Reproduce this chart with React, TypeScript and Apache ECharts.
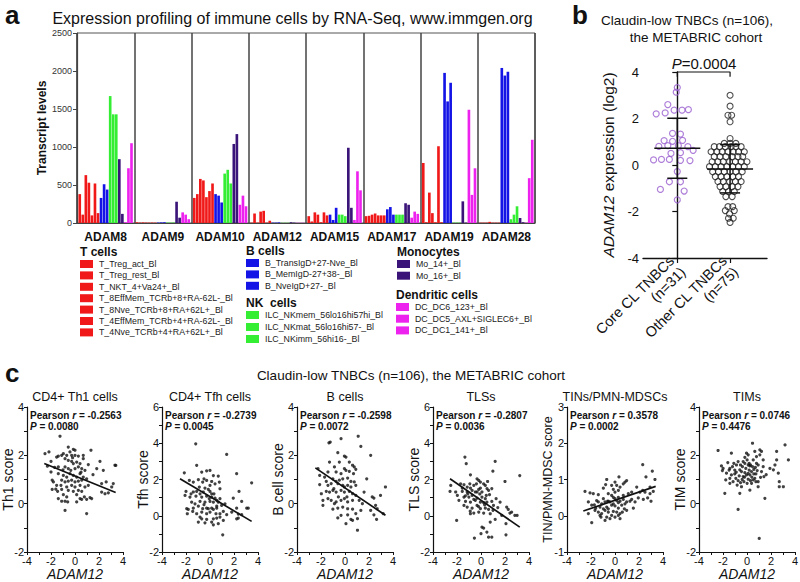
import React, { useEffect, useRef } from "react";
import * as echarts from "echarts";

const FONT = "'Liberation Sans', Arial, Helvetica, sans-serif";
const INK = "#111";

// ---------- Panel a data ----------
const genes = ["ADAM8", "ADAM9", "ADAM10", "ADAM12", "ADAM15", "ADAM17", "ADAM19", "ADAM28"];
const cellTypes = [
  "T_Treg_act_Bl", "T_Treg_rest_Bl", "T_NKT_4+Va24+_Bl", "T_8EffMem_TCRb+8+RA-62L-_Bl",
  "T_8Nve_TCRb+8+RA+62L+_Bl", "T_4EffMem_TCRb+4+RA-62L-_Bl", "T_4Nve_TCRb+4+RA+62L+_Bl",
  "B_TransIgD+27-Nve_Bl", "B_MemIgD-27+38-_Bl", "B_NveIgD+27-_Bl",
  "ILC_NKmem_56lo16hi57hi_Bl", "ILC_NKmat_56lo16hi57-_Bl", "ILC_NKimm_56hi16-_Bl",
  "Mo_14+_Bl", "Mo_16+_Bl",
  "DC_DC6_123+_Bl", "DC_DC5_AXL+SIGLEC6+_Bl", "DC_DC1_141+_Bl",
];
const lineageNames = ["T cells", "B cells", "NK\u00a0 cells", "Monocytes", "Dendritic cells"];
const lineageSizes = [7, 3, 3, 2, 3];
const lineageColors = ["#f01818", "#1414e6", "#34ee34", "#3a1478", "#ee22ee"];

const adam8 = [380, 110, 630, 530, 100, 520, 130, 330, 510, 440, 1670, 1430, 1430, 840, 120, 10, 720, 1050];
const adam9 = [10, 6, 8, 6, 5, 6, 5, 6, 8, 10, 6, 5, 6, 280, 70, 140, 110, 50];
const adam10 = [330, 380, 580, 560, 340, 420, 520, 380, 360, 270, 650, 700, 520, 1040, 1170, 240, 360, 220];
const adam12 = [5, 125, 5, 150, 160, 5, 30, 5, 5, 8, 3, 3, 3, 10, 5, 3, 3, 3];
const adam15 = [90, 20, 140, 110, 10, 140, 100, 110, 40, 200, 110, 110, 90, 990, 200, 40, 680, 430];
const adam17 = [90, 95, 110, 125, 100, 100, 100, 180, 210, 110, 110, 110, 110, 260, 240, 70, 150, 120];
const adam19 = [790, 10, 400, 130, 10, 1010, 10, 1975, 1600, 1845, 5, 5, 5, 285, 5, 1490, 370, 720];
const adam28 = [5, 5, 5, 15, 5, 5, 5, 2040, 1940, 1990, 50, 110, 220, 66, 10, 5, 590, 1095];
const geneValues = [adam8, adam9, adam10, adam12, adam15, adam17, adam19, adam28];

// ---------- Panel b data ----------
const groupLabels = ["Core CL TNBCs\n(n=31)", "Other CL TNBCs\n(n=75)"];
const coreCL = [
  [0.0, 3.33], [-0.02, 3.13], [-0.18, 2.6], [-0.4, 2.2], [-0.23, 2.24], [-0.06, 2.36], [0.09, 2.36],
  [0.21, 2.38], [-0.09, 1.36], [0.06, 1.33], [-0.25, 1.05], [-0.09, 1.02], [0.1, 1.06], [-0.35, 0.8],
  [-0.18, 0.83], [0.02, 0.83], [0.2, 0.79], [0.3, 0.63], [-0.12, 0.5], [0.06, 0.53], [-0.45, 0.22],
  [-0.3, 0.24], [-0.15, 0.24], [0.06, 0.2], [0.24, 0.19], [0.0, -0.28], [-0.15, -0.72], [0.06, -0.72],
  [-0.32, -1.05], [0.13, -1.12], [0.0, -1.5],
];
const otherCL = [
  [1, 3.0], [1, 2.53], [0.96, 2.14], [1.03, 2.14], [1, 1.86], [1, 1.14],
  [0.89, 0.93], [1, 0.93], [1.11, 0.93],
  [0.7, 0.79], [0.8, 0.79], [0.91, 0.79], [1.02, 0.79], [1.11, 0.79], [1.21, 0.79],
  [0.64, 0.57], [0.75, 0.57], [0.85, 0.57], [0.96, 0.57], [1.06, 0.57], [1.16, 0.57], [1.27, 0.57],
  [0.7, 0.36], [0.81, 0.36], [0.92, 0.36], [1.04, 0.36], [1.15, 0.36], [1.24, 0.36],
  [0.66, 0.14], [0.77, 0.14], [0.87, 0.14], [0.99, 0.14], [1.1, 0.14], [1.21, 0.14], [1.32, 0.14],
  [0.61, -0.07], [0.72, -0.07], [0.83, -0.07], [0.94, -0.07], [1.05, -0.07], [1.16, -0.07], [1.27, -0.07],
  [0.67, -0.29], [0.78, -0.29], [0.89, -0.29], [1, -0.29], [1.11, -0.29], [1.23, -0.29],
  [0.72, -0.5], [0.83, -0.5], [0.94, -0.5], [1.05, -0.5], [1.16, -0.5],
  [0.77, -0.71], [0.87, -0.71], [0.99, -0.71], [1.1, -0.71], [1.21, -0.71],
  [0.81, -0.93], [0.92, -0.93], [1.04, -0.93], [1.15, -0.93],
  [0.86, -1.14], [0.97, -1.14], [1.08, -1.14],
  [0.92, -1.36], [1.04, -1.36],
  [0.96, -1.79], [1.05, -1.79], [0.91, -1.96], [1.08, -1.96], [0.99, -2.1], [0.97, -2.29], [1.06, -2.29], [1, -2.47],
];
const groupMeans = [0.72, -0.17];
const groupSdLow = [-0.57, -1.2];
const groupSdHigh = [2.01, 0.88];
const bracketX = [0, 0, 1, 1];
const bracketY = [3.8, 4, 4, 3.8];

// ---------- Panel c data ----------
const th1Points = [
  [-1.25, 2.79], [-2.5, 2.07], [-2.17, 2.14], [-0.56, 2.34], [-0.14, 2.25], [0, 2.21], [-0.42, 2.14], [1.33, 2.21],
  [-1.39, 1.97], [-1.11, 2.0], [-0.97, 2.07], [-0.69, 2.0], [-0.28, 2.0], [0, 2.0], [0.28, 1.97], [0.69, 2.0],
  [2.08, 1.75], [3.33, 1.59], [-2.0, 1.75], [-1.39, 1.52], [-1.53, 1.93], [-0.83, 1.86], [-0.56, 1.79], [-0.28, 1.75],
  [-0.14, 1.66], [0.14, 1.72], [0.42, 1.66], [0.69, 1.86], [1.11, 1.62], [1.81, 1.45], [2.36, 1.38], [-2.0, 1.31],
  [-0.83, 1.52], [-0.56, 1.45], [-0.35, 1.38], [0, 1.45], [0.28, 1.52], [0.56, 1.45], [0.83, 1.38], [-1.39, 1.24],
  [-0.97, 1.17], [-0.69, 1.1], [-0.42, 1.24], [-0.14, 1.17], [0.14, 1.1], [0.42, 1.24], [0.69, 1.1], [0.97, 1.03],
  [-1.9, 0.97], [-1.8, 0.9], [-1.11, 0.97], [-0.83, 0.9], [-0.56, 0.93], [-0.28, 0.97], [0, 0.9], [0.28, 0.93],
  [0.56, 0.97], [-1.53, 0.76], [-1.17, 0.76], [-0.69, 0.69], [-0.28, 0.76], [0, 0.69], [0.42, 0.76], [0.83, 0.69],
  [1.11, 0.76], [2.22, 0.83], [3.19, 0.83], [-1.9, 0.59], [-1.45, 0.51], [-1.11, 0.59], [-0.56, 0.55], [-0.14, 0.51],
  [0.28, 0.55], [0.56, 0.51], [2.22, 0.48], [2.5, 0.41], [3.06, 0.69], [-0.97, 0.37], [-0.69, 0.28], [0.14, 0.37],
  [0.42, 0.21], [0.78, 0.28], [1.39, 0.21], [-1.39, 0.21], [-1.11, 0.1], [-0.83, 0.1], [-0.61, 0.07], [0.14, 0.07],
  [0.56, 0.18], [0.97, 0.18], [1.25, 0.25], [-0.83, -0.28], [0.97, -0.41], [-1.6, 0.6], [2.78, 0.45], [-2.3, 1.55],
  [-1.7, 1.5], [3.4, 1.58], [1.5, 1.2], [-0.2, 1.9], [0.5, 1.3], [-1.0, 1.4], [2.6, 0.9],
];
const tfhPoints = [
  [-1.19, 3.97], [1.39, 3.38], [-1.11, 2.78], [-2.14, 2.37], [-0.69, 2.41], [-0.28, 2.48], [0, 2.5], [2.22, 2.32],
  [0.69, 2.19], [0.28, 2.22], [-0.5, 2.04], [-0.97, 1.99], [-1.39, 1.86], [-0.61, 1.86], [-0.28, 1.95], [0.14, 1.89],
  [0.78, 1.86], [-1.72, 1.95], [0.42, 1.76], [0, 1.67], [-0.89, 1.58], [-0.42, 1.53], [0.83, 1.49], [-0.14, 1.45],
  [-2.0, 1.34], [-1.39, 1.31], [-1.11, 1.34], [-0.83, 1.21], [-0.56, 1.31], [0, 1.34], [0.14, 1.21], [0.33, 1.21],
  [2.42, 1.34], [-2.08, 1.12], [-1.67, 1.03], [-1.17, 1.08], [-0.69, 1.03], [-0.28, 1.08], [-0.06, 0.94], [0.14, 1.03],
  [0.42, 0.97], [0.56, 0.85], [0.83, 0.94], [1.94, 0.97], [2.64, 0.79], [-1.53, 0.75], [-0.83, 0.79], [-0.42, 0.75],
  [0, 0.79], [0.28, 0.75], [0.69, 0.75], [1.25, 0.66], [2.22, 0.42], [3.06, 0.42], [3.19, 0.42], [-1.94, 0.39],
  [-1.39, 0.42], [-0.97, 0.53], [-0.61, 0.39], [-0.14, 0.39], [0.14, 0.42], [0.28, 0.35], [0.56, 0.42], [0.97, 0.57],
  [-1.11, 0.11], [-0.69, 0.2], [-0.28, 0.11], [0, 0.2], [0.5, 0.11], [0.83, 0.11], [1.39, 0.06], [2.36, 0.09],
  [2.64, 0.06], [-1.81, 0.35], [-1.89, 0.11], [-0.83, -0.07], [-0.69, -0.17], [-0.28, -0.2], [0.28, -0.17], [0.56, -0.13],
  [0.83, -0.07], [1.11, -0.26], [2.22, -0.17], [2.36, -0.13], [-0.97, -0.35], [-0.42, -0.39], [0.14, -0.35], [0.69, -0.44],
  [0.28, -0.5], [1.06, -1.05], [-1.44, 0.24], [1.11, 0.24], [-0.28, 0.42], [-0.5, 0.61], [-1.25, 0.66], [0.56, 0.53],
  [1.81, 0.2], [-1.58, 1.21], [3.47, 1.82],
];
const bcellPoints = [
  [-1.23, 2.55], [-1.34, 2.52], [-0.33, 2.69], [1.1, 2.79], [1.32, 2.37], [-0.6, 2.11], [-0.05, 1.97], [0.08, 1.93],
  [2.14, 2.0], [-1.29, 1.72], [-0.47, 1.72], [0.36, 1.72], [0.63, 1.59], [0.77, 1.52], [-2.25, 1.45], [-0.88, 1.52],
  [-0.05, 1.45], [0.08, 1.38], [0.9, 1.42], [-1.42, 1.31], [-0.74, 1.31], [-0.33, 1.24], [0.36, 1.34], [0.71, 1.24],
  [1.81, 1.03], [-2.11, 1.17], [-1.7, 1.1], [-1.01, 1.03], [-0.74, 0.92], [-0.47, 0.97], [-0.19, 1.03], [0.22, 1.06],
  [0.49, 0.92], [0.77, 0.9], [-2.11, 0.79], [-1.42, 0.76], [-1.15, 0.83], [-0.6, 0.83], [-0.19, 0.76], [-0.05, 0.69],
  [0.22, 0.76], [0.49, 0.69], [0.9, 0.76], [3.37, 0.69], [-1.97, 0.41], [-1.56, 0.51], [-1.29, 0.48], [-1.01, 0.55],
  [-0.74, 0.48], [-0.33, 0.55], [-0.05, 0.48], [0.36, 0.51], [0.63, 0.41], [0.9, 0.34], [2.27, 0.28], [2.41, 0.23],
  [2.96, 0.34], [-1.84, 0.14], [-1.42, 0.21], [-1.15, 0.14], [-0.74, 0.07], [-0.33, 0.14], [-0.05, 0.21], [0.22, 0.07],
  [0.63, 0.14], [1.18, 0.14], [-1.84, -0.07], [-1.01, -0.23], [-0.6, -0.18], [-0.19, -0.14], [0.22, -0.21], [0.63, -0.23],
  [1.32, -0.28], [2.14, -0.28], [2.55, -0.07], [2.68, -0.21], [-0.6, -0.59], [-0.33, -0.48], [0.22, -0.46], [0.49, -0.65],
  [0.9, -0.41], [2.41, -0.46], [1.04, -0.62], [0.08, -0.83], [0.63, -0.69], [1.04, -1.1], [2.63, -0.65], [3.18, -0.41],
  [-0.93, 0.62], [-0.55, 0.28], [0.16, 0.28], [1.59, 0.48], [-1.56, 0.92], [-0.88, 0], [1.45, 0],
];
const tlsPoints = [
  [-1.34, 3.24], [-1.23, 2.87], [1.18, 3.0], [0.99, 2.46], [3.23, 2.22], [-0.88, 2.26], [-0.33, 2.04], [-0.19, 1.95],
  [-0.05, 1.86], [0.55, 1.89], [-1.7, 1.76], [-1.42, 1.71], [-0.93, 1.76], [-0.6, 1.67], [-0.38, 1.76], [0.22, 1.76],
  [0.36, 1.67], [2.0, 1.89], [-2.58, 1.34], [-2.11, 1.31], [-1.56, 1.34], [-1.15, 1.31], [-1.1, 1.21], [-0.74, 1.4],
  [-0.47, 1.31], [-0.19, 1.45], [-0.05, 1.53], [0.08, 1.31], [0.63, 1.4], [-1.97, 1.12], [-1.42, 1.03], [-1.01, 1.03],
  [-0.74, 1.12], [-0.33, 0.97], [0.08, 1.03], [0.36, 0.94], [0.71, 1.16], [-1.84, 0.85], [-1.29, 0.79], [-0.88, 0.75],
  [-0.47, 0.85], [-0.05, 0.75], [0.22, 0.72], [0.49, 0.75], [0.9, 0.79], [-1.15, 0.48], [-0.74, 0.42], [-0.33, 0.57],
  [-0.05, 0.39], [0.36, 0.42], [0.63, 0.35], [1.04, 0.57], [2.14, 0.48], [2.27, 0.35], [2.55, 0.2], [-0.88, 0.11],
  [-0.6, 0.15], [-0.19, 0.2], [0.22, 0.15], [0.77, 0.11], [1.73, 0.02], [2.41, 0.15], [2.82, 0.02], [3.01, 0.02],
  [-2.03, -0.26], [0.77, -0.35], [1.18, -0.2], [2.08, -0.44], [0.08, -0.63], [0.22, -0.68], [0.49, -0.9], [0.63, -1.18],
  [0.9, -1.18], [0, -0.99], [-0.55, -1.23], [2.08, -1.05], [-1.42, 0.57], [-1.56, 1.53], [-0.33, 1.31], [0.44, 1.12],
  [-2.52, 1.67], [-1.15, 1.58], [-0.88, 1.53], [1.26, 0.94], [1.59, 0.75], [-0.1, 1.2], [0.3, 0.6], [-0.6, 0.9],
  [1.0, 0.3], [-1.3, 1.1], [0.5, 1.5], [-0.2, 0.5], [0.9, 1.5], [-0.9, 0.25], [1.4, 0.45],
];
const tinPoints = [
  [2.31, 1.41], [3.11, 1.23], [3.33, 1.0], [2.58, 1.07], [-0.69, 1.0], [0.33, 1.07], [0.97, 0.97], [0.83, 0.93],
  [0.69, 0.88], [0, 0.93], [-0.78, 0.86], [-0.28, 0.84], [0.14, 0.84], [0.42, 0.79], [-0.97, 0.76], [-0.14, 0.73],
  [0.28, 0.7], [0, 0.65], [1.81, 0.79], [2.92, 0.79], [-2.5, 0.67], [-2.08, 0.63], [-1.81, 0.61], [-1.39, 0.58],
  [-0.56, 0.61], [-0.28, 0.56], [-0.14, 0.51], [0, 0.47], [0.28, 0.51], [0.69, 0.56], [1.11, 0.61], [1.39, 0.65],
  [2.08, 0.65], [2.31, 0.7], [2.5, 0.65], [2.92, 0.61], [3.19, 0.67], [2.72, 0.49], [3.0, 0.4], [2.36, 0.45],
  [-2.22, 0.38], [-1.94, 0.29], [-1.39, 0.38], [-1.11, 0.33], [-0.83, 0.38], [-0.61, 0.4], [-0.42, 0.38], [0.14, 0.42],
  [0.42, 0.4], [0.83, 0.33], [1.25, 0.4], [-1.61, 0.21], [-1.25, 0.24], [-0.97, 0.19], [-0.69, 0.24], [-0.28, 0.29],
  [0, 0.27], [0.28, 0.21], [0.56, 0.29], [0.78, 0.19], [-1.39, 0.1], [-1.11, 0.06], [-0.83, 0.15], [-0.56, 0.1],
  [-0.14, 0.12], [0.14, 0.1], [0.42, 0.06], [0.97, 0.15], [1.53, 0.21], [-2.22, 0.06], [-1.25, 0.01], [-0.69, -0.04],
  [-0.28, 0.01], [0, -0.04], [0.28, 0.01], [-1.17, -0.04], [-0.83, -0.13], [-0.42, -0.08], [0.42, -0.08], [-1.94, -0.19],
  [-0.56, 0.4], [-0.97, 0.47], [-1.53, 0.42], [-1.72, 0.3], [0.69, 0.45], [0.97, 0.38], [1.39, 0.45], [1.67, 0.38],
  [1.94, 0.49], [-0.56, 0.19], [-1.67, 0.15], [-0.14, 0.33], [0.61, 0.1], [0.28, 0.36],
];
const timPoints = [
  [-2.41, 2.2], [-2.13, 1.56], [-2.05, 1.37], [-1.99, 1.46], [-1.85, 0.43], [-1.43, 1.05], [-1.43, 1.46], [-1.3, 2.09],
  [-1.1, 1.67], [-1.02, 1.39], [-0.88, 1.6], [-0.74, 1.74], [-0.65, 1.15], [-0.54, 1.6], [-0.46, 1.33], [-0.38, 1.53],
  [-0.32, 1.12], [-0.26, 0.91], [-0.18, 1.67], [-0.04, 2.09], [0.01, 1.81], [0.1, 1.6], [0.18, 1.39], [0.24, 1.19],
  [0.29, 0.95], [0.38, 0.84], [0.46, 2.5], [0.52, 1.81], [0.57, 1.42], [0.65, 2.16], [0.65, 1.05], [0.79, 1.67],
  [0.85, 1.37], [0.93, 0.91], [1.07, 2.02], [1.21, 2.16], [1.35, 1.81], [1.35, 1.53], [1.41, 1.12], [1.49, 0.22],
  [1.91, 1.46], [2.33, 1.6], [2.47, 2.16], [2.47, 1.81], [2.61, 1.26], [2.69, 0.91], [3.17, 2.43], [3.45, 1.81],
  [3.03, 0.7], [2.69, 0.7], [-1.49, 1.39], [-1.3, 1.19], [-1.16, 0.91], [-0.93, 1.05], [-0.82, 0.77], [-0.6, 0.43],
  [-0.46, 0.7], [-0.18, 1.28], [-0.04, 1.19], [0.1, 1.01], [0.24, 1.56], [0.38, 1.33], [0.52, 0.98], [0.74, 1.23],
  [0.93, 0.7], [1.02, -1.44], [-0.74, -0.24], [0.24, 0.56], [-0.32, 1.74], [0.79, 1.95], [1.07, 2.23], [-1.21, 1.53],
  [-1.02, 1.23], [-0.74, 0.95], [-0.54, 0.87], [-0.1, 1.46], [0.01, 0.84], [0.18, 1.67], [0.29, 1.6], [0.46, 1.53],
  [0.57, 1.23], [0.74, 0.91], [0.93, 1.6], [1.13, 1.09], [1.21, 1.33], [-1.71, 1.26], [-1.77, 0.98], [-1.43, 0.84],
  [-0.18, 1.92], [0.1, 2.02], [-0.6, 1.4], [0.4, 1.1], [-0.9, 1.3], [1.6, 1.2], [-0.2, 1.1], [0.7, 1.5],
  [-1.6, 1.7], [2.2, 1.4], [0.1, 1.25], [-0.4, 1.0],
];
const th1Fit = [[-2.56, 1.66], [3.39, 0.46]];
const tfhFit = [[-2.5, 2.04], [3.47, -0.31]];
const bcellFit = [[-2.47, 1.48], [3.37, -0.48]];
const tlsFit = [[-2.58, 2.04], [3.23, -0.63]];
const tinFit = [[-2.64, 0.13], [3.39, 0.81]];

const scatterTitles = ["CD4+ Th1 cells", "CD4+ Tfh cells", "B cells", "TLSs", "TINs/PMN-MDSCs", "TIMs"];
const scatterYNames = ["Th1 score", "Tfh score", "B cell score", "TLS score", "TIN/PMN-MDSC score", "TIM score"];
const scatterYMin = [-2, -2, -2, -2, -1, -2];
const scatterYMax = [4, 6, 4, 6, 3, 4];
const scatterYLabelStep = [2, 2, 2, 2, 1, 2];
const pearsonR = ["-0.2563", "-0.2739", "-0.2598", "-0.2807", "0.3578", "0.0746"];
const pearsonP = ["0.0080", "0.0045", "0.0072", "0.0036", "0.0002", "0.4476"];
const scatterPoints = [th1Points, tfhPoints, bcellPoints, tlsPoints, tinPoints, timPoints];
const scatterFits: any[] = [th1Fit, tfhFit, bcellFit, tlsFit, tinFit, null];

// ---------- layout ----------
const gridA = { left: 77, top: 33, width: 458, height: 190 };
const gridB = { left: 643, top: 72, width: 124, height: 186 };
const scatterLefts = [27, 162, 297, 433, 567, 699];
const scatterTop = 407;
const scatterW = 96;
const scatterH = 145;
const legendLayout = [
  { x: 80, y: 252, step: 11.4 },
  { x: 246, y: 251, step: 11.4 },
  { x: 246, y: 303, step: 12 },
  { x: 397, y: 252, step: 11.7 },
  { x: 396, y: 295, step: 11.7 },
];

function txt(x: number, y: number, text: string, o: any = {}) {
  const align = o.align || "left";
  const va = o.va || "middle";
  return {
    type: "text",
    x,
    y,
    rotation: o.rotation || 0,
    style: {
      text,
      fill: o.fill || INK,
      fontSize: o.size || 12,
      fontFamily: FONT,
      fontWeight: o.weight || "normal",
      fontStyle: o.style || "normal",
      align,
      textAlign: align,
      verticalAlign: va,
      textVerticalAlign: va,
      rich: o.rich,
    },
    z: 10,
  };
}

function buildOption() {
  const grids: any[] = [];
  const xAxes: any[] = [];
  const yAxes: any[] = [];
  const series: any[] = [];
  const graphics: any[] = [];

  // ----- panel a -----
  grids.push({ ...gridA, show: true, borderColor: "#555", borderWidth: 1, outerBoundsMode: "none", containLabel: false });
  xAxes.push({
    gridIndex: 0,
    type: "category",
    data: genes,
    axisLine: { show: true, lineStyle: { color: "#444", width: 1.2 } },
    axisTick: { show: false },
    axisLabel: { interval: 0, fontSize: 12, fontWeight: "bold", color: INK, fontFamily: FONT, margin: 8 },
    splitLine: { show: true, interval: 0, lineStyle: { color: "#444", width: 1.5 } },
  });
  yAxes.push({
    gridIndex: 0,
    type: "value",
    min: 0,
    max: 2500,
    interval: 500,
    axisLine: { show: true, lineStyle: { color: "#444", width: 1.2 } },
    axisTick: { show: true, length: 4, lineStyle: { color: "#444" } },
    axisLabel: { fontSize: 9, color: "#333", fontFamily: FONT, margin: 5, formatter: (v: number) => String(v) },
    splitLine: { show: false },
    name: "Transcript levels",
    nameLocation: "middle",
    nameGap: 29,
    nameMoveOverlap: false,
    nameTextStyle: { fontSize: 12, fontWeight: "bold", color: INK, fontFamily: FONT },
  });
  let lineage = 0;
  let within = 0;
  cellTypes.forEach((ct, i) => {
    series.push({
      type: "bar",
      name: ct,
      xAxisIndex: 0,
      yAxisIndex: 0,
      data: genes.map((_, g) => geneValues[g][i]),
      itemStyle: { color: lineageColors[lineage] },
      barGap: "15%",
      barCategoryGap: "5%",
      silent: true,
    });
    within++;
    if (within >= lineageSizes[lineage]) {
      lineage++;
      within = 0;
    }
  });
  graphics.push(txt(5, 15, "a", { size: 26, weight: "bold" }));
  graphics.push(txt(292.5, 18, "Expression profiling of immune cells by RNA-Seq, www.immgen.org", { size: 16, align: "center" }));

  // legend of panel a
  let idx = 0;
  lineageNames.forEach((ln, li) => {
    const L = legendLayout[li];
    graphics.push(txt(L.x, L.y, ln, { size: 12, weight: "bold" }));
    for (let k = 0; k < lineageSizes[li]; k++) {
      const yy = L.y + 12 + k * L.step;
      graphics.push({ type: "rect", shape: { x: L.x, y: yy - 4, width: 13, height: 8 }, style: { fill: lineageColors[li] }, z: 10 });
      graphics.push(txt(L.x + 19, yy, cellTypes[idx], { size: 8.8, fill: "#222" }));
      idx++;
    }
  });

  // ----- panel b -----
  grids.push({ ...gridB, show: false, outerBoundsMode: "none", containLabel: false });
  xAxes.push({
    gridIndex: 1,
    type: "value",
    min: -0.65,
    max: 1.7,
    axisLine: { show: true, onZero: false, lineStyle: { color: INK, width: 1.4 } },
    axisTick: { show: true, customValues: [0, 1], length: 5, lineStyle: { color: INK, width: 1.2 } },
    axisLabel: {
      customValues: [0, 1],
      formatter: (v: number) => groupLabels[Math.round(v)] || "",
      rotate: 45,
      fontSize: 14.5,
      lineHeight: 16,
      color: INK,
      fontFamily: FONT,
      margin: 6,
    },
    splitLine: { show: false },
  });
  yAxes.push({
    gridIndex: 1,
    type: "value",
    min: -4,
    max: 4,
    interval: 2,
    axisLine: { show: true, lineStyle: { color: INK, width: 1.4 } },
    axisTick: { show: true, length: 5, lineStyle: { color: INK, width: 1.2 } },
    axisLabel: { fontSize: 13, color: INK, fontFamily: FONT, margin: 4 },
    splitLine: { show: false },
    name: "{i|ADAM12} expression (log2)",
    nameLocation: "middle",
    nameGap: 27,
    nameMoveOverlap: false,
    nameTextStyle: {
      fontSize: 15.5,
      color: INK,
      fontFamily: FONT,
      rich: { i: { fontStyle: "italic", fontSize: 15.5, color: INK, fontFamily: FONT } },
    },
  });
  series.push({
    type: "scatter",
    xAxisIndex: 1,
    yAxisIndex: 1,
    data: coreCL,
    symbol: "circle",
    symbolSize: 6,
    itemStyle: { color: "rgba(255,255,255,0)", borderColor: "#9a5fd0", borderWidth: 1.2 },
    silent: true,
  });
  series.push({
    type: "scatter",
    xAxisIndex: 1,
    yAxisIndex: 1,
    data: otherCL,
    symbol: "circle",
    symbolSize: 6,
    itemStyle: { color: "rgba(255,255,255,0)", borderColor: "#222", borderWidth: 1.1 },
    silent: true,
  });
  series.push({
    type: "custom",
    xAxisIndex: 1,
    yAxisIndex: 1,
    data: groupMeans.map((m, i) => [i, m, groupSdLow[i], groupSdHigh[i]]),
    encode: { x: 0, y: [1, 2, 3] },
    z: 5,
    silent: true,
    renderItem: (params: any, api: any) => {
      const x = api.value(0);
      const pm = api.coord([x, api.value(1)]);
      const plo = api.coord([x, api.value(2)]);
      const phi = api.coord([x, api.value(3)]);
      const style = { stroke: INK, lineWidth: 1.5 };
      return {
        type: "group",
        children: [
          { type: "line", shape: { x1: pm[0] - 23, y1: pm[1], x2: pm[0] + 23, y2: pm[1] }, style },
          { type: "line", shape: { x1: plo[0], y1: plo[1], x2: phi[0], y2: phi[1] }, style },
          { type: "line", shape: { x1: phi[0] - 10, y1: phi[1], x2: phi[0] + 10, y2: phi[1] }, style },
          { type: "line", shape: { x1: plo[0] - 10, y1: plo[1], x2: plo[0] + 10, y2: plo[1] }, style },
        ],
      };
    },
  });
  series.push({
    type: "line",
    xAxisIndex: 1,
    yAxisIndex: 1,
    data: bracketX.map((x, i) => [x, bracketY[i]]),
    showSymbol: false,
    clip: false,
    lineStyle: { color: INK, width: 1.2 },
    silent: true,
  });
  graphics.push(txt(572, 15, "b", { size: 26, weight: "bold" }));
  graphics.push(txt(687, 20, "Claudin-low TNBCs (n=106),", { size: 13.5, align: "center" }));
  graphics.push(txt(696, 37, "the METABRIC cohort", { size: 13.5, align: "center" }));
  graphics.push(
    txt(704, 63, "{i|P}=0.0004", {
      size: 15,
      align: "center",
      rich: { i: { fontStyle: "italic", fontSize: 15, fontFamily: FONT, fill: INK, color: INK } },
    })
  );

  // ----- panel c -----
  graphics.push(txt(5, 373, "c", { size: 26, weight: "bold" }));
  graphics.push(txt(411, 375, "Claudin-low TNBCs (n=106), the METABRIC cohort", { size: 13.5, align: "center" }));
  scatterTitles.forEach((title, k) => {
    const gi = k + 2;
    const left = scatterLefts[k];
    grids.push({ left, top: scatterTop, width: scatterW, height: scatterH, show: false, outerBoundsMode: "none", containLabel: false });
    xAxes.push({
      gridIndex: gi,
      type: "value",
      min: -4,
      max: 4,
      interval: 1,
      axisLine: { show: true, onZero: false, lineStyle: { color: INK, width: 1.2 } },
      axisTick: { show: true, length: 3, lineStyle: { color: INK } },
      axisLabel: {
        fontSize: 11,
        color: INK,
        fontFamily: FONT,
        margin: 3,
        formatter: (v: number) => (Math.abs(v) % 2 === 0 ? String(v) : ""),
      },
      splitLine: { show: false },
      name: "ADAM12",
      nameLocation: "middle",
      nameGap: 15,
      nameMoveOverlap: false,
      nameTextStyle: { fontSize: 14, fontStyle: "italic", color: INK, fontFamily: FONT },
    });
    const step = scatterYLabelStep[k];
    yAxes.push({
      gridIndex: gi,
      type: "value",
      min: scatterYMin[k],
      max: scatterYMax[k],
      interval: 1,
      axisLine: { show: true, onZero: false, lineStyle: { color: INK, width: 1.2 } },
      axisTick: { show: true, length: 3, lineStyle: { color: INK } },
      axisLabel: {
        fontSize: 11,
        color: INK,
        fontFamily: FONT,
        margin: 3,
        formatter: (v: number) => (Math.abs(v) % step === 0 ? String(v) : ""),
      },
      splitLine: { show: false },
      name: scatterYNames[k],
      nameLocation: "middle",
      nameGap: k === 4 ? 13 : 12,
      nameMoveOverlap: false,
      nameTextStyle: { fontSize: k === 4 ? 12.5 : 14, color: INK, fontFamily: FONT },
    });
    series.push({
      type: "scatter",
      xAxisIndex: gi,
      yAxisIndex: gi,
      data: scatterPoints[k],
      symbol: "circle",
      symbolSize: 3.2,
      itemStyle: { color: "#111" },
      silent: true,
    });
    if (scatterFits[k]) {
      series.push({
        type: "line",
        xAxisIndex: gi,
        yAxisIndex: gi,
        data: scatterFits[k],
        showSymbol: false,
        lineStyle: { color: "#111", width: 1.7 },
        silent: true,
        z: 4,
      });
    }
    graphics.push(txt(left + scatterW / 2, 397, title, { size: 12.5, align: "center" }));
    graphics.push(
      txt(left + 3, 415, "Pearson {bi|r} = " + pearsonR[k], {
        size: 10,
        weight: "bold",
        rich: { bi: { fontStyle: "italic", fontWeight: "bold", fontSize: 10, fontFamily: FONT, fill: INK } },
      })
    );
    graphics.push(
      txt(left + 3, 426, "{bi|P} = " + pearsonP[k], {
        size: 10,
        weight: "bold",
        rich: { bi: { fontStyle: "italic", fontWeight: "bold", fontSize: 10, fontFamily: FONT, fill: INK } },
      })
    );
  });

  return {
    animation: false,
    backgroundColor: "#ffffff",
    textStyle: { fontFamily: FONT },
    grid: grids,
    xAxis: xAxes,
    yAxis: yAxes,
    series,
    graphic: { elements: graphics },
  };
}

export default function App() {
  const ref = useRef<HTMLDivElement>(null);
  useEffect(() => {
    if (!ref.current) return;
    const chart = echarts.init(ref.current, undefined, { renderer: "svg" });
    chart.setOption(buildOption() as any);
    return () => chart.dispose();
  }, []);
  return (
    <div
      ref={ref}
      style={{ position: "absolute", left: 0, top: 0, width: 800, height: 582, background: "#fff" }}
    />
  );
}
